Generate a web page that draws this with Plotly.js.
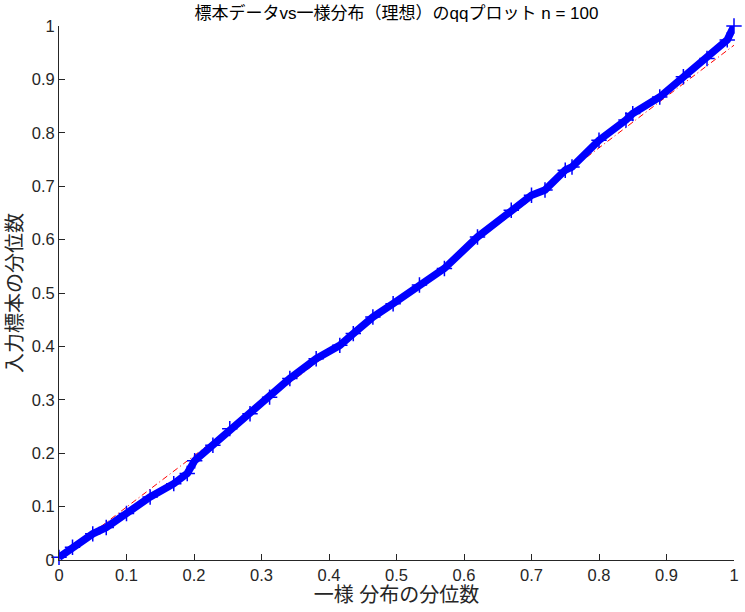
<!DOCTYPE html>
<html>
<head>
<meta charset="utf-8">
<script src="https://cdn.plot.ly/plotly-3.0.1.min.js"></script>
<style>
  html, body { margin: 0; padding: 0; background: #fff; }
  #graph { width: 745px; height: 612px; }
</style>
</head>
<body>
<div id="graph"></div>
<script>
// theoretical (uniform) quantiles vs sample quantiles
let uniformQ = [0, 0.02, 0.05, 0.07, 0.10, 0.135, 0.17, 0.19, 0.201, 0.228, 0.253, 0.283, 0.312, 0.342, 0.381, 0.416, 0.436, 0.465, 0.495, 0.534, 0.571, 0.62, 0.67, 0.70, 0.72, 0.75, 0.76, 0.80, 0.84, 0.85, 0.89, 0.925, 0.96, 0.99, 1.0];
let sampleQ = [0.005, 0.024, 0.049, 0.061, 0.087, 0.118, 0.143, 0.162, 0.186, 0.215, 0.246, 0.274, 0.305, 0.340, 0.377, 0.402, 0.424, 0.455, 0.480, 0.515, 0.546, 0.605, 0.655, 0.683, 0.693, 0.730, 0.736, 0.786, 0.824, 0.836, 0.867, 0.905, 0.939, 0.974, 1.0];

// reference line ends
let refX = [0, 1];
let refY = [0.003, 0.964];

let tickVals = [0, 0.1, 0.2, 0.3, 0.4, 0.5, 0.6, 0.7, 0.8, 0.9, 1];
let tickText = ["0", "0.1", "0.2", "0.3", "0.4", "0.5", "0.6", "0.7", "0.8", "0.9", "1"];

const FONT = "Liberation Sans, Noto Sans CJK JP, sans-serif";

function plot() {
    let refLine = {
        x: refX,
        y: refY,
        type: "scatter",
        mode: "lines",
        showlegend: false,
        line: {
            color: "#FF0000",
            width: 1,
            dash: "6px,3px,1px,3px"
        }
    };

    let samples = {
        x: uniformQ,
        y: sampleQ,
        type: "scatter",
        mode: "lines+markers",
        showlegend: false,
        cliponaxis: false,
        line: {
            color: "#0000FF",
            width: 7.5
        },
        marker: {
            symbol: "cross-thin",
            size: 11,
            color: "#0000FF",
            line: { color: "#0000FF", width: 1.5 }
        }
    };

    let axisStyle = {
        range: [0, 1],
        tickmode: "array",
        tickvals: tickVals,
        ticktext: tickText,
        ticks: "inside",
        ticklen: 6,
        tickcolor: "#262626",
        showline: true,
        linecolor: "#262626",
        linewidth: 1,
        mirror: false,
        showgrid: false,
        zeroline: false,
        tickfont: { family: FONT, size: 16.5, color: "#262626" }
    };

    let layout = {
        width: 745,
        height: 612,
        margin: { l: 59, r: 11, t: 26, b: 52 },
        paper_bgcolor: "#FFFFFF",
        plot_bgcolor: "#FFFFFF",
        title: {
            text: "標本データvs一様分布（理想）のqqプロット n = 100",
            font: { family: FONT, size: 17, color: "#000000" },
            x: 0.5,
            xref: "paper",
            y: 0.979,
            yref: "container",
            yanchor: "middle"
        },
        xaxis: Object.assign({}, axisStyle, {
            title: { text: "一様 分布の分位数", font: { family: FONT, size: 20, color: "#262626" }, standoff: 1 }
        }),
        yaxis: Object.assign({}, axisStyle, {
            title: { text: "入力標本の分位数", font: { family: FONT, size: 20, color: "#262626" }, standoff: 3 }
        })
    };

    Plotly.newPlot("graph", [refLine, samples], layout, { displayModeBar: false, staticPlot: true });
}

plot();
</script>
</body>
</html>
